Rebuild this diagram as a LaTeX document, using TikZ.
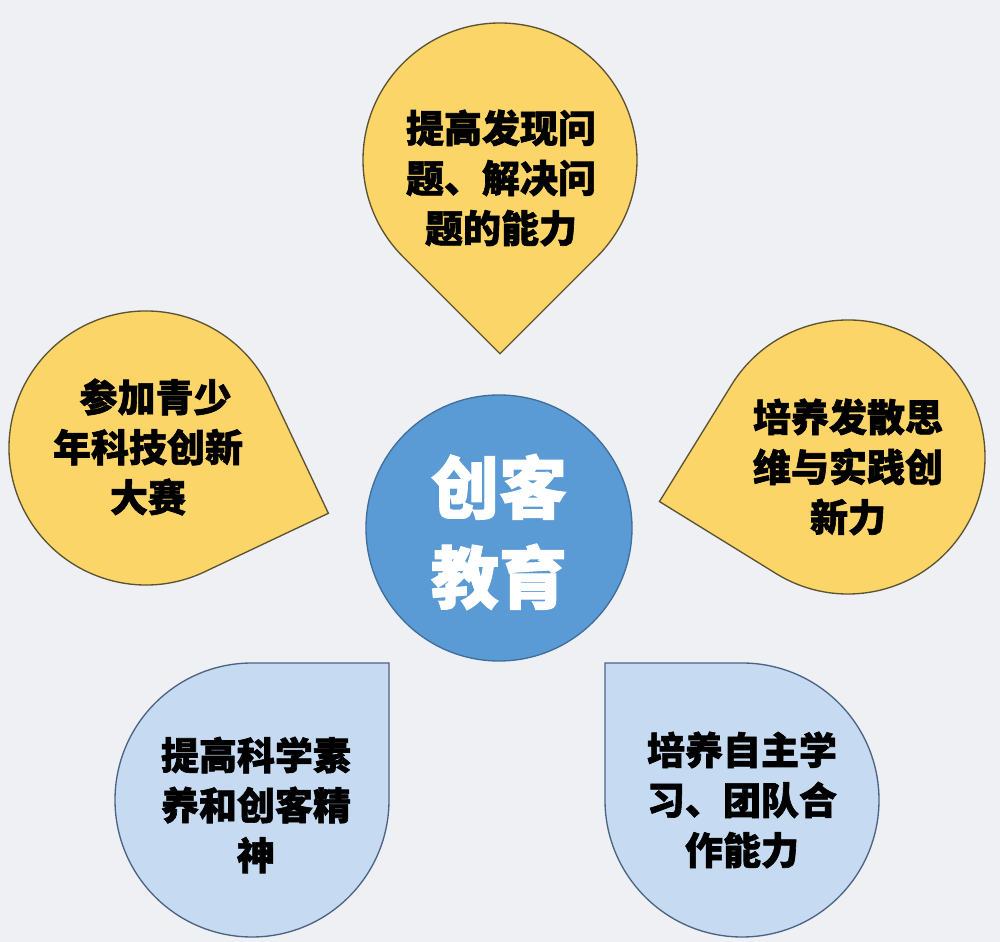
\documentclass[tikz,border=0pt]{standalone}
\usepackage{fontspec}
\newfontfamily\cjk{Noto Sans CJK SC}[BoldFeatures={FakeBold=1.6}]
\definecolor{bgc}{HTML}{EEF0F3}
\definecolor{ylw}{HTML}{FBD567}
\definecolor{ylwline}{HTML}{5C5234}
\definecolor{lblue}{HTML}{C6DBF1}
\definecolor{lblueline}{HTML}{4C6384}
\definecolor{cblue}{HTML}{5B9BD5}
\definecolor{cblueline}{HTML}{3F6E9C}
\newcommand\dropshape[5]{%
  \filldraw[fill=#1, draw=#2, line width=1pt, shift={(#3,#4)}, rotate=#5]
    (0,137) -- (137,137) -- (137,0) arc[start angle=0, end angle=-270, radius=137] -- cycle;}
\tikzset{
  lbl/.style={font=\cjk\bfseries\fontsize{28.5}{37.5}\selectfont, align=center, text=black, inner sep=0pt},
  ctr/.style={font=\cjk\bfseries\fontsize{51}{67.5}\selectfont, align=center, text=white, inner sep=0pt}
}
\begin{document}
\begin{tikzpicture}[x=0.75pt,y=0.75pt]
\useasboundingbox (0,0) rectangle (1000,942);
\fill[bgc] (0,0) rectangle (1000,942);
% drops
\dropshape{ylw}{ylwline}{500}{782}{-135}
\dropshape{ylw}{ylwline}{146}{494}{-64.7}
\dropshape{ylw}{ylwline}{848}{485}{148.3}
\dropshape{lblue}{lblueline}{252}{142}{0}
\dropshape{lblue}{lblueline}{742}{142}{90}
% center
\filldraw[fill=cblue, draw=cblueline, line width=1pt] (499,414) circle[radius=133];
\node[ctr] (center) at (499,410) {创客\\教育};
\node[lbl] (top) at (501,764) {提高发现问\\题、解决问\\题的能力};
\node[lbl] (left) at (148,495) {\hspace*{0.4em}参加青少\\年科技创新\\大赛};
\node[lbl] (right) at (848,475) {培养发散思\\维与实践创\\新力};
\node[lbl] (bl) at (256,137) {提高科学素\\养和创客精\\神};
\node[lbl] (br) at (742,142) {培养自主学\\习、团队合\\作能力};
\end{tikzpicture}
\end{document}
